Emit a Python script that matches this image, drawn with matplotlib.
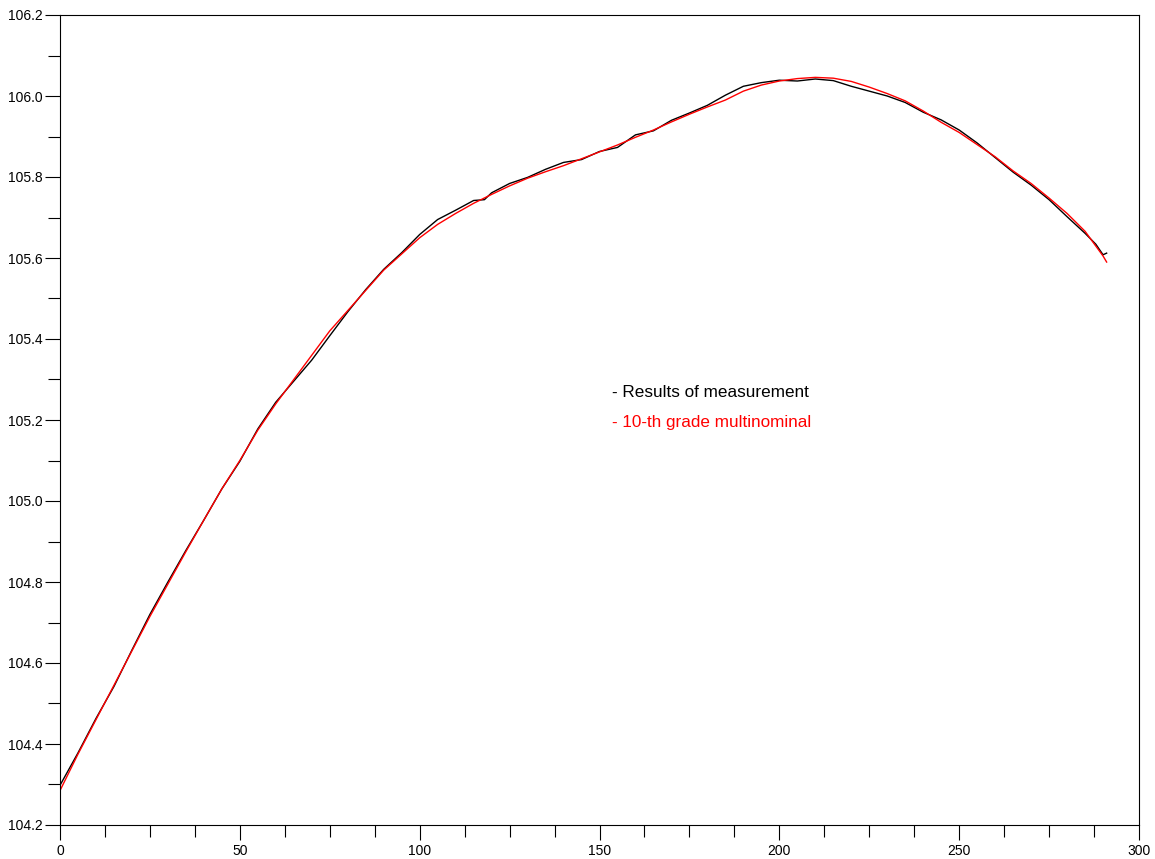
import matplotlib
matplotlib.use("Agg")
import matplotlib.pyplot as plt
from matplotlib.ticker import MultipleLocator, FormatStrFormatter

plt.rcParams['font.family'] = ['Liberation Sans', 'DejaVu Sans']

# measured values (black)
meas_x = [0, 5, 10, 15, 20, 25, 30, 35, 40, 45, 50, 55, 60, 65, 70, 75,
          80, 85, 90, 95, 100, 105, 110, 115, 118, 120, 125, 130, 135, 140,
          145, 150, 155, 160, 165, 170, 175, 180, 185, 190, 195, 200, 205,
          210, 215, 220, 225, 230, 235, 240, 245, 250, 255, 260, 265, 270,
          275, 280, 285, 288, 290, 291]
meas_y = [104.298, 104.378, 104.463, 104.542, 104.632, 104.720, 104.800,
          104.878, 104.953, 105.030, 105.098, 105.178, 105.244, 105.296,
          105.348, 105.408, 105.467, 105.522, 105.572, 105.613, 105.658,
          105.695, 105.718, 105.742, 105.744, 105.761, 105.784, 105.799,
          105.819, 105.836, 105.843, 105.863, 105.873, 105.904, 105.914,
          105.940, 105.958, 105.977, 106.002, 106.024, 106.033, 106.039,
          106.037, 106.042, 106.038, 106.024, 106.012, 106.000, 105.984,
          105.960, 105.941, 105.916, 105.884, 105.848, 105.812, 105.780,
          105.744, 105.702, 105.661, 105.634, 105.608, 105.612]

# 10-th grade polynomial fit (red)
fit_x = [0, 5, 10, 15, 20, 25, 30, 35, 40, 45, 50, 55, 60, 65, 70, 75, 80,
         85, 90, 95, 100, 105, 110, 115, 120, 125, 130, 135, 140, 145, 150,
         155, 160, 165, 170, 175, 180, 185, 190, 195, 200, 205, 210, 215,
         220, 225, 230, 235, 240, 245, 250, 255, 260, 265, 270, 275, 280,
         285, 290, 291]
fit_y = [104.285, 104.375, 104.460, 104.545, 104.630, 104.715, 104.795,
         104.875, 104.953, 105.030, 105.100, 105.175, 105.240, 105.300,
         105.360, 105.420, 105.470, 105.520, 105.570, 105.610, 105.650,
         105.683, 105.710, 105.735, 105.757, 105.778, 105.797, 105.813,
         105.828, 105.845, 105.862, 105.879, 105.898, 105.916, 105.936,
         105.955, 105.973, 105.990, 106.012, 106.027, 106.037, 106.043,
         106.046, 106.044, 106.036, 106.022, 106.006, 105.988, 105.963,
         105.935, 105.910, 105.880, 105.850, 105.815, 105.784, 105.748,
         105.710, 105.666, 105.605, 105.590]

fig = plt.figure(figsize=(11.55, 8.59), dpi=100)
ax = fig.add_axes([60 / 1155, 1 - 825 / 859, 1079 / 1155, 810 / 859])

ax.plot(meas_x, meas_y, color='black', lw=1.0)
ax.plot(fit_x, fit_y, color='red', lw=1.0)

ax.set_xlim(0, 300)
ax.set_ylim(104.2, 106.2)
ax.xaxis.set_major_locator(MultipleLocator(50))
ax.xaxis.set_minor_locator(MultipleLocator(12.5))
ax.yaxis.set_major_locator(MultipleLocator(0.2))
ax.yaxis.set_minor_locator(MultipleLocator(0.1))
ax.yaxis.set_major_formatter(FormatStrFormatter('%.1f'))
ax.tick_params(which='major', direction='out', length=11, width=0.8,
               labelsize=10, colors='black')
ax.tick_params(which='minor', direction='out', length=8.5, width=0.8)
ax.tick_params(axis='x', which='major', pad=3)
ax.tick_params(axis='y', which='major', pad=1.5)
for s in ax.spines.values():
    s.set_linewidth(0.8)

ax.text(153.5, 105.267, '- Results of measurement', color='black',
        fontsize=12.3, va='center', ha='left')
ax.text(153.5, 105.195, '- 10-th grade multinominal', color='red',
        fontsize=12.3, va='center', ha='left')

fig.savefig('out.png', dpi=100)
